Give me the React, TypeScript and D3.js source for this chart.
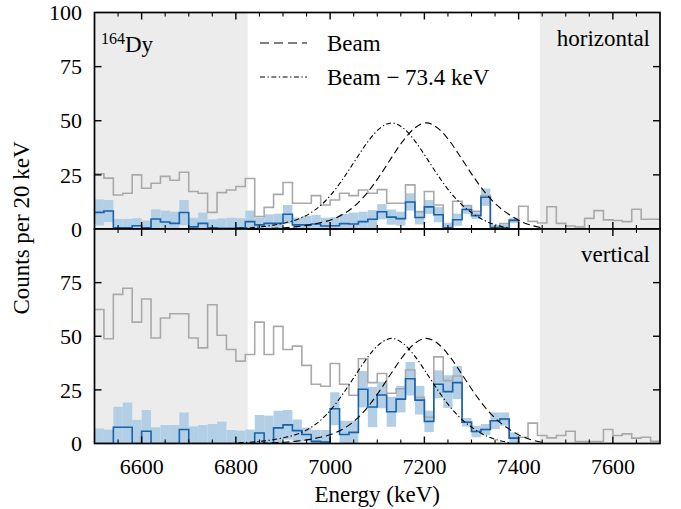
import React from 'react';
import * as d3 from 'd3';

// ---------- data ----------
const binStart = 6500;
const binWidth = 20;

const topGray = [25.5, 23.5, 15.7, 16.5, 25.0, 18.8, 21.1, 24.3, 22.5, 26.2,
  17.3, 16.5, 7.7, 16.8, 18.0, 19.6, 23.3, 5.7, 10.0, 16.0,
  21.5, 11.9, 11.9, 15.4, 11.1, 13.4, 16.5, 15.4, 18.0, 16.5,
  18.2, 11.9, 11.9, 20.4, 8.0, 17.3, 11.1, 0.8, 12.8, 10.8,
  8.2, 15.5, 1.0, 2.5, 4.3, 10.5, 3.5, 2.8, 10.3, 2.6,
  1.4, 1.0, 4.9, 8.5, 4.2, 3.9, 3.4, 9.1, 4.5, 4.5];
const topBlue = [7.7, 8.3, 0.5, 0.5, 1.5, 0.5, 4.6, 3.2, 2.6, 7.6,
  1.0, 2.6, 0.5, 0.3, 0.3, 0.5, 3.4, 1.9, 2.6, 2.6,
  6.8, 1.9, 1.9, 2.3, 1.4, 1.5, 2.5, 2.3, 3.4, 4.5,
  8.0, 5.5, 4.8, 12.5, 5.3, 10.2, 6.6, 0.5, 4.3, 9.0,
  6.2, 14.7, 0.5, 0.5, 4.0];
const topErr = [6.0, 5.1, 4.2, 4.2, 3.5, 3.4, 4.5, 5.3, 5.4, 5.8,
  4.2, 5.0, 4.0, 4.6, 4.9, 4.5, 5.1, 3.2, 4.2, 4.5,
  4.3, 3.3, 4.1, 4.2, 3.8, 4.0, 4.5, 5.3, 4.6, 4.2,
  3.5, 3.5, 3.2, 4.0, 3.2, 3.2, 3.5, 2.4, 2.8, 2.0,
  1.6, 4.0, 1.5, 1.5, 1.2];

const botGray = [62.5, 48.8, 69.5, 72.4, 56.6, 67.4, 49.2, 58.5, 60.5, 60.5,
  49.2, 44.6, 64.7, 50.5, 43.8, 38.4, 41.5, 56.6, 41.5, 54.6,
  43.8, 45.4, 36.4, 27.6, 26.7, 37.3, 27.6, 22.5, 39.5, 28.4,
  32.6, 23.4, 25.5, 34.3, 21.5, 12.2, 40.4, 29.3, 31.5, 10.0,
  5.6, 6.5, 10.6, 11.4, 2.5, 2.9, 9.5, 3.7, 2.6, 3.7,
  5.7, 0.9, 0.9, 0.9, 6.5, 3.7, 4.5, 2.5, 2.9, 1.0];
const botBlue = [0, 0, 7.6, 7.6, 0, 5.7, 0, 0, 0, 6.5,
  0, 0, 0, 0, 0, 0, 0, 4.9, 0, 7.3,
  8.7, 6.0, 4.2, 1.0, 0.7, 16.2, 4.2, 5.2, 25.3, 17.0,
  22.6, 14.8, 20.7, 30.2, 20.2, 10.3, 27.6, 24.2, 28.4, 9.9,
  5.6, 6.5, 10.6, 11.4, 2.5];
const botErr = [7.0, 6.5, 9.5, 11.5, 11.0, 9.9, 7.6, 8.6, 8.6, 8.0,
  8.0, 8.6, 9.1, 10.2, 6.3, 6.0, 6.5, 8.4, 13.0, 8.0,
  6.9, 5.2, 3.2, 5.4, 5.6, 7.7, 6.4, 5.4, 8.5, 9.4,
  6.2, 7.0, 6.2, 7.8, 6.7, 5.0, 6.5, 7.6, 7.7, 2.0,
  2.7, 2.6, 3.9, 3.1, 2.7];

const beamEnergy = [6829, 6854, 6879, 6904, 6929, 6954, 6979, 7004, 7029, 7054,
  7079, 7104, 7129, 7154, 7179, 7204, 7229, 7254, 7279, 7304,
  7329, 7354, 7379, 7404, 7429, 7454];
const beamCounts = [0.05, 0.15, 0.3, 0.6, 1.1, 1.8, 2.9, 4.4, 7.0, 11.0,
  16.8, 24.2, 32.5, 40.5, 46.5, 49.0, 46.5, 40.5, 32.5, 24.2,
  16.8, 11.0, 6.8, 3.6, 1.6, 0.4];
const beamShift = 73.4;

const xMajorTicks = [6600, 6800, 7000, 7200, 7400, 7600];
const yTicksTop = [0, 25, 50, 75, 100];
const yTicksBottom = [0, 25, 50, 75];
const shadedRanges: [number, number][] = [[6500, 6825], [7445, 7700]];

// ---------- layout ----------
const W = 681, H = 509;
const X0 = 94.5, X1 = 660;
const Y_TOP = 12.5, Y_MID = 229, Y_BOT = 443.5;
const FONT = '"Liberation Serif", "Times New Roman", serif';
const GRAY = '#a9a9a9';
const BLUE = '#1762ad';
const BAND = '#b3cfe6';
const SHADE = '#ececec';

const x = d3.scaleLinear().domain([6500, 7700]).range([X0, X1]);

function stepPoints(vals: number[], closeToZero: boolean): [number, number][] {
  const pts: [number, number][] = vals.map((v, i) => [binStart + i * binWidth, v]);
  const end = binStart + vals.length * binWidth;
  pts.push([end, vals[vals.length - 1]]);
  if (closeToZero) pts.push([end, 0]);
  return pts;
}

function Panel({ id, y, gray, blue, err, label, yTicks }: any) {
  const stepLine = d3.line<[number, number]>().x(d => x(d[0])).y(d => y(d[1])).curve(d3.curveStepAfter);
  const smooth = d3.line<[number, number]>().x(d => x(d[0])).y(d => y(d[1])).curve(d3.curveMonotoneX);
  const beamPts: [number, number][] = beamEnergy.map((e, i) => [e, beamCounts[i]]);
  const shiftedPts: [number, number][] = beamEnergy
    .map((e, i) => [e - beamShift, beamCounts[i]] as [number, number])
    .filter(d => d[0] >= 6800);
  const yTop = y.range()[1];
  const yBot = y.range()[0];
  const minorTicks = d3.range(6550, 7700, 50).filter(v => !xMajorTicks.includes(v));
  return (
    <g>
      <defs>
        <clipPath id={id}>
          <rect x={X0} y={yTop} width={X1 - X0} height={yBot - yTop} />
        </clipPath>
      </defs>
      <g clipPath={`url(#${id})`}>
        {shadedRanges.map((r, i) => (
          <rect key={i} x={x(r[0])} y={yTop} width={x(r[1]) - x(r[0])} height={yBot - yTop} fill={SHADE} />
        ))}
        {blue.map((v: number, i: number) => {
          const lo = Math.max(0, v - err[i]);
          const hi = v + err[i];
          const e = binStart + i * binWidth;
          return <rect key={i} x={x(e)} y={y(hi)} width={x(e + binWidth) - x(e)} height={y(lo) - y(hi)} fill={BAND} />;
        })}
        <path d={stepLine(stepPoints(gray, false)) || ''} fill="none" stroke={GRAY} strokeWidth={1.6} />
        <path d={stepLine(stepPoints(blue, true)) || ''} fill="none" stroke={BLUE} strokeWidth={1.6} />
        <path d={smooth(beamPts) || ''} fill="none" stroke="#000" strokeWidth={1.1} strokeDasharray="7,4" />
        <path d={smooth(shiftedPts) || ''} fill="none" stroke="#000" strokeWidth={1.1} strokeDasharray="5,2.5,1.3,2.5" />
      </g>
      <rect x={X0} y={yTop} width={X1 - X0} height={yBot - yTop} fill="none" stroke="#000" strokeWidth={1.7} />
      {xMajorTicks.map(v => (
        <g key={'M' + v}>
          <line x1={x(v)} x2={x(v)} y1={yBot} y2={yBot - 7} stroke="#000" strokeWidth={1.4} />
          <line x1={x(v)} x2={x(v)} y1={yTop} y2={yTop + 7} stroke="#000" strokeWidth={1.4} />
        </g>
      ))}
      {minorTicks.map(v => (
        <g key={'m' + v}>
          <line x1={x(v)} x2={x(v)} y1={yBot} y2={yBot - 4} stroke="#000" strokeWidth={1.1} />
          <line x1={x(v)} x2={x(v)} y1={yTop} y2={yTop + 4} stroke="#000" strokeWidth={1.1} />
        </g>
      ))}
      {[25, 50, 75].map(v => (
        <g key={'y' + v}>
          <line x1={X0} x2={X0 + 7} y1={y(v)} y2={y(v)} stroke="#000" strokeWidth={1.4} />
          <line x1={X1} x2={X1 - 7} y1={y(v)} y2={y(v)} stroke="#000" strokeWidth={1.4} />
        </g>
      ))}
      {yTicks.map((v: number) => (
        <text key={'t' + v} x={82} y={y(v)} dy="0.35em" textAnchor="end" fontFamily={FONT} fontSize={22}>{v}</text>
      ))}
      <text x={650} y={yTop + 33} textAnchor="end" fontFamily={FONT} fontSize={23}>{label}</text>
    </g>
  );
}

export default function App() {
  const yT = d3.scaleLinear().domain([0, 100]).range([Y_MID, Y_TOP]);
  const yB = d3.scaleLinear().domain([0, 100]).range([Y_BOT, Y_MID]);
  return (
    <svg width={W} height={H} style={{ position: 'absolute', left: 0, top: 0, background: '#fff' }}>
      <rect x={0} y={0} width={W} height={H} fill="#fff" />
      <Panel id="clipTop" y={yT} gray={topGray} blue={topBlue} err={topErr} label="horizontal" yTicks={yTicksTop} />
      <Panel id="clipBot" y={yB} gray={botGray} blue={botBlue} err={botErr} label="vertical" yTicks={yTicksBottom} />
      {xMajorTicks.map(v => (
        <text key={v} x={x(v)} y={474} textAnchor="middle" fontFamily={FONT} fontSize={22}>{v}</text>
      ))}
      <text x={(X0 + X1) / 2} y={502} textAnchor="middle" fontFamily={FONT} fontSize={23}>Energy (keV)</text>
      <text transform={`translate(29,${(Y_TOP + Y_BOT) / 2}) rotate(-90)`} textAnchor="middle" fontFamily={FONT} fontSize={23}>Counts per 20 keV</text>
      <text x={101} y={52} fontFamily={FONT} fontSize={23}>
        <tspan fontSize={16} dy={-8}>164</tspan>
        <tspan dy={8}>Dy</tspan>
      </text>
      <line x1={260} x2={307} y1={43} y2={43} stroke="#000" strokeWidth={1.1} strokeDasharray="9,5" />
      <text x={327} y={51} fontFamily={FONT} fontSize={23}>Beam</text>
      <line x1={260} x2={307} y1={77} y2={77} stroke="#000" strokeWidth={1.1} strokeDasharray="5,2.5,1.3,2.5" />
      <text x={327} y={85} fontFamily={FONT} fontSize={23}>Beam − 73.4 keV</text>
    </svg>
  );
}
